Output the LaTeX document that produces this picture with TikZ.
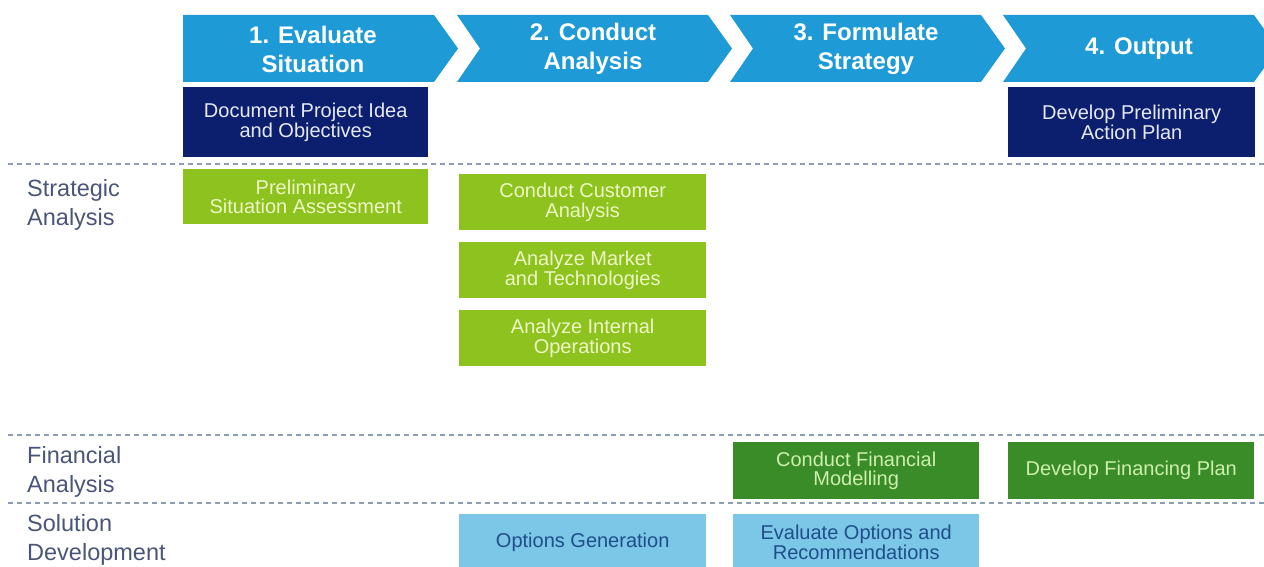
\documentclass[tikz,border=0pt]{standalone}
\usepackage{fontspec}
\setmainfont{Liberation Sans}

\definecolor{phaseblue}{HTML}{1E9BD7}
\definecolor{navy}{HTML}{0C1F6E}
\definecolor{navytext}{HTML}{E6E9F5}
\definecolor{lime}{HTML}{8DC21F}
\definecolor{limetext}{HTML}{EEF7C4}
\definecolor{darkgreen}{HTML}{3A8C28}
\definecolor{greentext}{HTML}{CDEFAE}
\definecolor{skyblue}{HTML}{7CC6E8}
\definecolor{skytext}{HTML}{1F4F8A}
\definecolor{labelcol}{HTML}{4A5577}
\definecolor{dashcol}{HTML}{8C9DB5}

\tikzset{
  phase/.style={fill=phaseblue, draw=none},
  phasetext/.style={text=white, font=\fontsize{24}{29}\selectfont\bfseries,
    align=center, inner sep=0pt},
  taskbox/.style={anchor=north west, inner sep=0pt, align=center,
    font=\fontsize{20}{19.5}\selectfont},
  navybox/.style={taskbox, fill=navy, text=navytext},
  limebox/.style={taskbox, fill=lime, text=limetext},
  finbox/.style={taskbox, fill=darkgreen, text=greentext},
  solbox/.style={taskbox, fill=skyblue, text=skytext},
  rowlabel/.style={anchor=west, align=left, inner sep=0pt, text=labelcol,
    font=\fontsize{23.5}{29}\selectfont},
  divider/.style={draw=dashcol, line width=1.8pt, dash pattern=on 5pt off 4pt}
}

\begin{document}
\begin{tikzpicture}[x=1pt, y=-1pt]
\useasboundingbox (0,0) rectangle (1264,567);
\clip (0,0) rectangle (1264,567);

% phase chevrons
\fill[phase] (183,15) -- (434,15) -- (458,48.5) -- (434,82) -- (183,82) -- cycle;
\foreach \l in {457,730,1003}{
  \fill[phase] (\l,15) -- (\l+251,15) -- (\l+275,48.5) -- (\l+251,82)
    -- (\l,82) -- (\l+23,48.5) -- cycle;
}
\node[phasetext] (p1) at (313,49) {1. Evaluate\\Situation};
\node[phasetext] (p2) at (593,49) {2. Conduct\\Analysis};
\node[phasetext] (p3) at (866,49) {3. Formulate\\Strategy};
\node[phasetext] (p4) at (1139,49) {4. Output};

% row dividers
\draw[divider] (8,164) -- (1264,164);
\draw[divider] (8,435) -- (1264,435);
\draw[divider] (8,503) -- (1264,503);

% row labels
\node[rowlabel] (lstrat) at (27,205) {Strategic\\Analysis};
\node[rowlabel] (lfin) at (27,472) {Financial\\Analysis};
\node[rowlabel] (lsol) at (27,540) {Solution\\Development};

% overview tasks
\node[navybox, minimum width=245pt, minimum height=70pt] (doc) at (183,87)
  {Document Project Idea\\and Objectives};
\node[navybox, minimum width=247pt, minimum height=70pt] (plan) at (1008,87)
  {Develop Preliminary\\Action Plan};

% strategic analysis
\node[limebox, minimum width=245pt, minimum height=55pt] (prelim) at (183,169)
  {Preliminary\\Situation Assessment};
\node[limebox, minimum width=247pt, minimum height=56pt] (cust) at (459,174)
  {Conduct Customer\\Analysis};
\node[limebox, minimum width=247pt, minimum height=56pt] (market) at (459,242)
  {Analyze Market\\and Technologies};
\node[limebox, minimum width=247pt, minimum height=56pt] (ops) at (459,310)
  {Analyze Internal\\Operations};

% financial analysis
\node[finbox, minimum width=246pt, minimum height=57pt] (model) at (733,442)
  {Conduct Financial\\Modelling};
\node[finbox, minimum width=246pt, minimum height=57pt] (finplan) at (1008,442)
  {Develop Financing Plan};

% solution development
\node[solbox, minimum width=247pt, minimum height=56pt] (optgen) at (459,514)
  {Options Generation};
\node[solbox, minimum width=246pt, minimum height=56pt] (evalopt) at (733,514)
  {Evaluate Options and\\Recommendations};
\end{tikzpicture}
\end{document}
